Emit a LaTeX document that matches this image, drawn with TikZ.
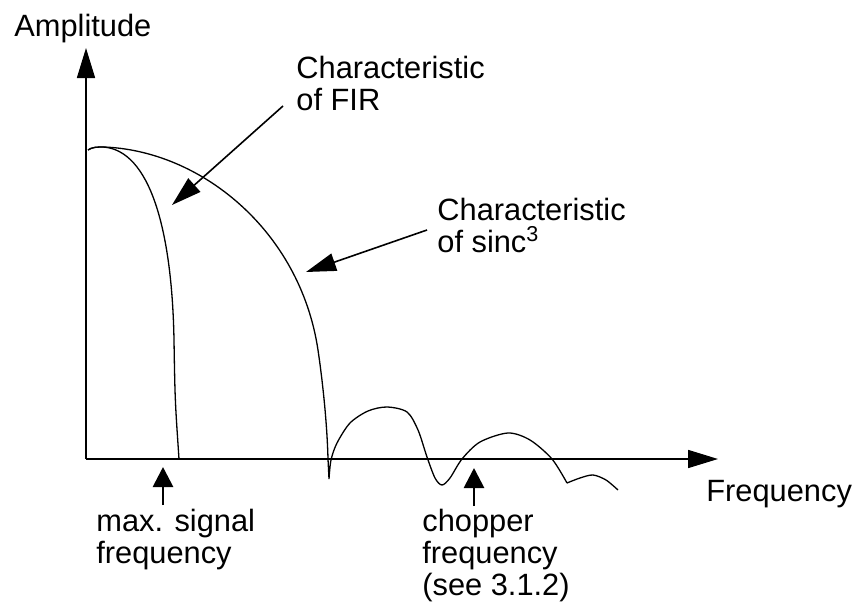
\documentclass[tikz,border=0pt]{standalone}
\usepackage{fontspec}
\setmainfont{Liberation Sans}
\usetikzlibrary{arrows.meta}
\usetikzlibrary{positioning}
\tikzset{>=latex}
\tikzstyle{lbl} = [anchor=base west, inner sep=0pt, align=left, font=\fontsize{15.4}{16}\selectfont]
\tikzstyle{axis} = [-{Triangle[length=15pt, width=9pt]}, line width=0.8pt]
\tikzstyle{pointer} = [-{Triangle[length=15pt, width=9pt]}, line width=0.8pt]
\tikzstyle{marker} = [-{Triangle[length=10pt, width=10pt]}, line width=1.4pt]
\tikzstyle{curve} = [line width=0.65pt]

\begin{document}
\begin{tikzpicture}[x=0.5pt, y=-0.5pt]
\useasboundingbox (0,0) rectangle (858,605);
% axes
\coordinate (O) at (86, 459);
\coordinate (Ytip) at (86, 48);
\coordinate (Xtip) at (718, 459);
\draw [axis] (O) to (Ytip);
\draw [axis] (O) to (Xtip);
\node [lbl] (Amp) at (14, 36) {Amplitude};
\node [lbl] (Freq) at (706, 501) {Frequency};
% filter curves
\draw [curve] (88,150) .. controls (92,147) and (98,147) .. (103,147)
  .. controls (150,150) and (172,230) .. (174,340) .. controls (175,400) .. (179,459);
\draw [curve] (88,150) .. controls (92,147) and (98,147) .. (103,147)
  .. controls (200,150) and (300,230) .. (318,350) .. controls (322,377) and (327,420) .. (328,459) -- (329,479)
  plot [smooth] coordinates {(329,479) (331,460) (337,443) (350,423) (368,411) (387,407) (407,412) (418,430) (427,457) (435,478) (442,485) (450,478) (462,459) (480,442) (508,433) (530,440) (552,459) (567,483)}
  plot [smooth] coordinates {(567,483) (580,478) (593,475) (606,480) (618,490)};
% labels and pointers
\node [lbl] (FIR) at (296, 110) {Characteristic\\of FIR};
\node [lbl] (SINC) at (437, 252) {Characteristic\\of sinc\textsuperscript{3}};
\coordinate (FIRa) at (283, 106);
\coordinate (FIRb) at (172, 205);
\coordinate (SINCa) at (427, 230);
\coordinate (SINCb) at (306, 272);
\draw [pointer] (FIRa) to (FIRb);
\draw [pointer] (SINCa) to (SINCb);
\node [lbl] (MaxF) at (96, 563) {max. signal\\frequency};
\node [lbl] (ChopF) at (422, 595) {chopper\\frequency\\(see 3.1.2)};
\coordinate (MaxA) at (163, 505);
\coordinate (MaxB) at (163, 467);
\coordinate (ChopA) at (474, 506);
\coordinate (ChopB) at (474, 468);
\draw [marker] (MaxA) to (MaxB);
\draw [marker] (ChopA) to (ChopB);
\end{tikzpicture}
\end{document}
